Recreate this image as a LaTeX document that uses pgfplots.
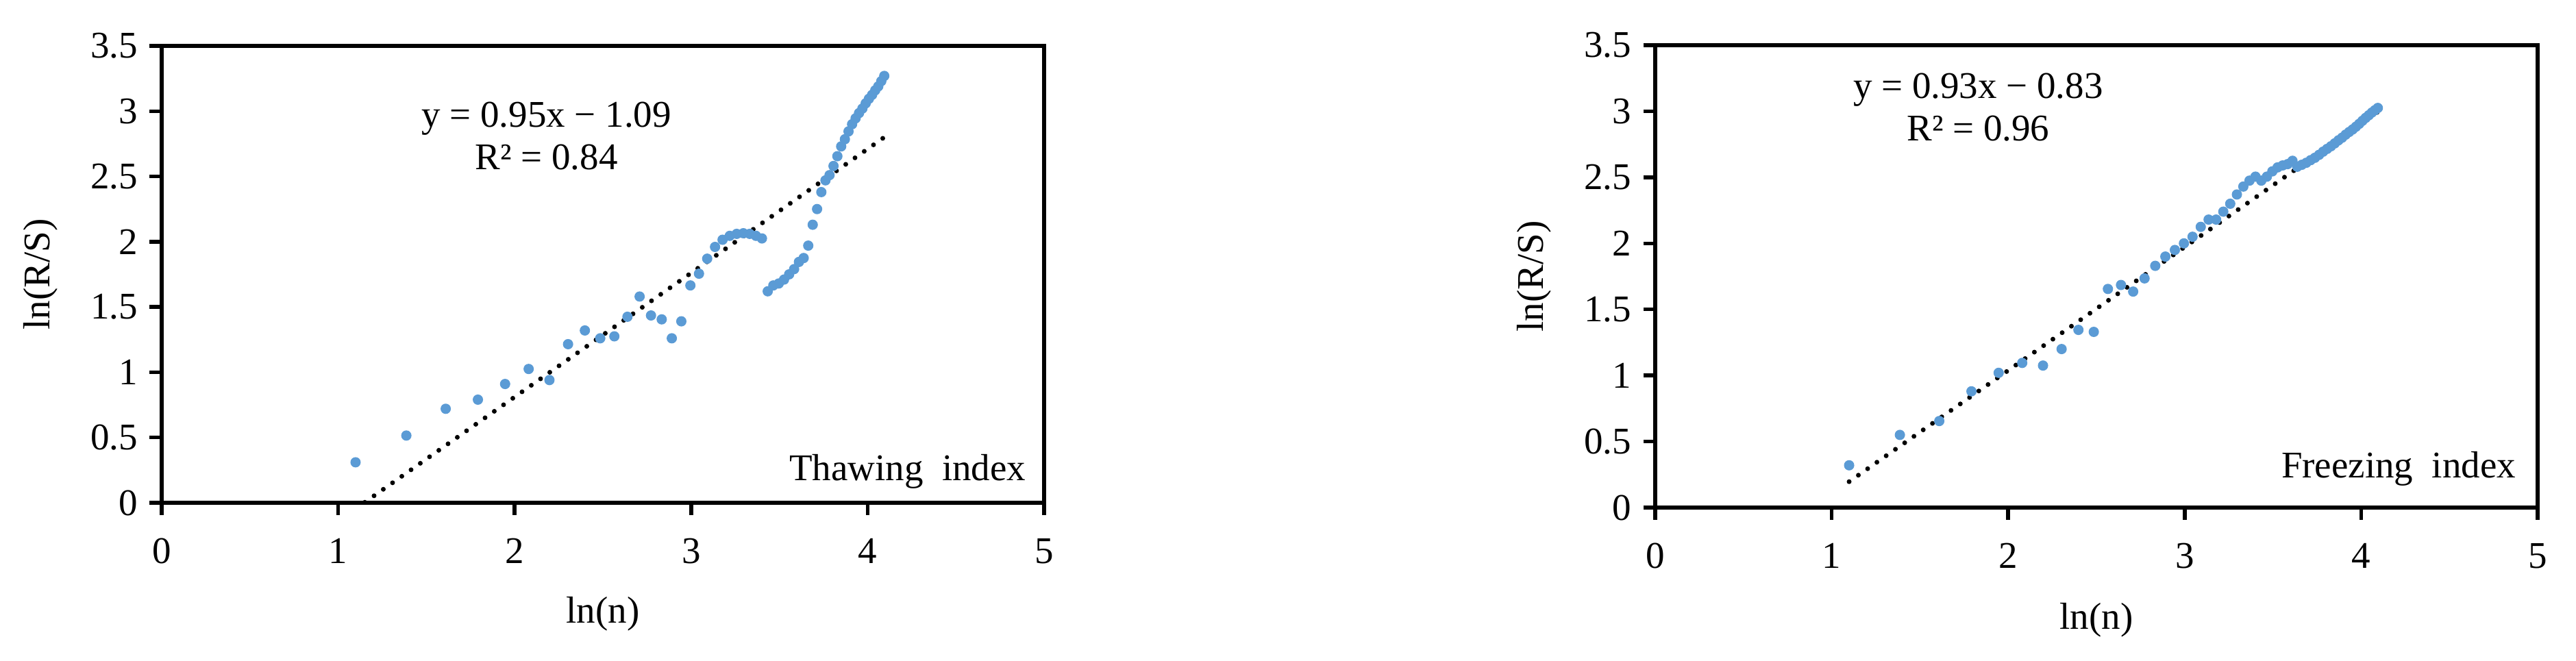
\documentclass[border=0pt]{standalone}
\usepackage{fontspec}
\setmainfont{Liberation Serif}
\usepackage{pgfplots}
\usepackage{pgfplotstable}
\pgfplotsset{compat=1.18}

\definecolor{xlblue}{HTML}{5B9BD5}

% x = ln(n), n = 3..60; t = thawing index, f = freezing index
\pgfplotstableread{
x      t      f
1.0986 0.310  0.320
1.3863 0.515  0.550
1.6094 0.720  0.655
1.7918 0.790  0.880
1.9459 0.910  1.020
2.0794 1.025  1.095
2.1972 0.940  1.075
2.3026 1.215  1.200
2.3979 1.320  1.345
2.4849 1.260  1.330
2.5649 1.275  1.655
2.6391 1.425  1.685
2.7081 1.580  1.635
2.7726 1.435  1.735
2.8332 1.405  1.830
2.8904 1.260  1.900
2.9444 1.390  1.950
2.9957 1.665  2.000
3.0445 1.755  2.050
3.0910 1.870  2.125
3.1355 1.960  2.180
3.1781 2.015  2.180
3.2189 2.045  2.240
3.2581 2.060  2.300
3.2958 2.065  2.370
3.3322 2.060  2.430
3.3673 2.045  2.475
3.4012 2.025  2.505
3.4340 1.620  2.475
3.4657 1.665  2.505
3.4965 1.680  2.545
3.5264 1.710  2.575
3.5553 1.750  2.590
3.5835 1.790  2.600
3.6109 1.845  2.625
3.6376 1.875  2.580
3.6636 1.970  2.595
3.6889 2.130  2.610
3.7136 2.250  2.630
3.7377 2.380  2.648
3.7612 2.470  2.670
3.7842 2.510  2.694
3.8067 2.580  2.715
3.8286 2.655  2.735
3.8501 2.730  2.757
3.8712 2.785  2.780
3.8918 2.845  2.800
3.9120 2.900  2.823
3.9318 2.945  2.843
3.9512 2.985  2.862
3.9703 3.020  2.883
3.9890 3.060  2.905
4.0073 3.095  2.928
4.0254 3.125  2.950
4.0431 3.160  2.970
4.0604 3.190  2.990
4.0775 3.230  3.008
4.0943 3.270  3.025
}\rsdata

\pgfplotsset{
  rsaxis/.style={
    scale only axis,
    anchor=south west,
    width=257.6pt,
    xmin=0, xmax=5, ymin=0, ymax=3.5,
    xtick={0,1,2,3,4,5},
    ytick={0,0.5,1,1.5,2,2.5,3,3.5},
    axis line style={line width=1.2pt},
    tick style={line width=1.1pt, black},
    major tick length=3.5pt,
    tick align=outside,
    tick pos=left,
    /pgf/number format/assume math mode=true,
    ticklabel style={font=\fontsize{11}{13}\selectfont},
    xticklabel style={yshift=-3.4pt},
    label style={font=\fontsize{11}{13}\selectfont},
    xlabel={ln(n)},
    ylabel={ln(R/S)},
    x label style={at={(axis description cs:0.5,-0.244)}, anchor=center},
    y label style={at={(axis description cs:-0.137,0.5)}, anchor=center},
  },
  rsmarks/.style={only marks, mark=*, mark size=1.3pt, color=xlblue},
  rstrend/.style={black, line width=1.4pt, line cap=round,
    dash pattern=on 0pt off 3.3pt},
}

\begin{document}
\begin{tikzpicture}
\useasboundingbox (0,0) rectangle (752pt,192.8pt);

% thawing index
\begin{axis}[rsaxis, at={(47.2pt,46pt)}, height=133.4pt]
  \addplot[rsmarks] table[x=x, y=t] {\rsdata};
  \addplot[rstrend] coordinates {(1.0986,-0.046) (4.0943,2.800)};
  \node[align=center, font=\fontsize{11}{12.4}\selectfont]
    at (axis cs:2.18,2.81) {y = 0.95x − 1.09\\R² = 0.84};
  \node[anchor=base east, inner sep=0pt, font=\fontsize{11}{13}\selectfont]
    at (axis cs:4.90,0.168) {Thawing~~index};
\end{axis}

% freezing index
\begin{axis}[rsaxis, at={(483.2pt,44.6pt)}, height=135pt]
  \addplot[rsmarks] table[x=x, y=f] {\rsdata};
  \addplot[rstrend] coordinates {(1.0986,0.196) (4.0943,2.995)};
  \node[align=center, font=\fontsize{11}{12.4}\selectfont]
    at (axis cs:1.83,3.03) {y = 0.93x − 0.83\\R² = 0.96};
  \node[anchor=base east, inner sep=0pt, font=\fontsize{11}{13}\selectfont]
    at (axis cs:4.88,0.228) {Freezing~~index};
\end{axis}
\end{tikzpicture}
\end{document}
